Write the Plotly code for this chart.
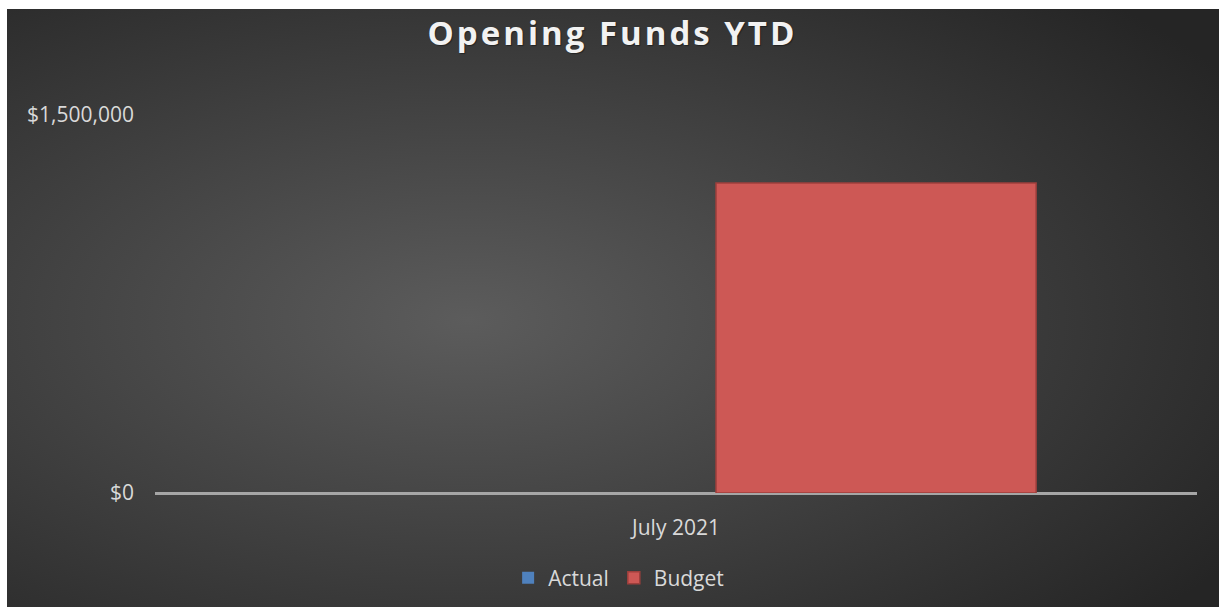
import base64
import plotly.graph_objects as go

# chart data
categories = ["July 2021"]
actual = [0]
budget = [1230000]
y_ticks = [0, 1500000]
y_tick_labels = ["$0", "$1,500,000"]

W, H = 1225, 607

# dark radial background, like the Excel chart style
svg = """<svg xmlns='http://www.w3.org/2000/svg' width='100' height='100' viewBox='0 0 100 100' preserveAspectRatio='none'>
<defs><radialGradient id='g' cx='0.38' cy='0.52' r='0.75'>
<stop offset='0' stop-color='#5c5c5c'/><stop offset='1' stop-color='#252525'/>
</radialGradient></defs><rect width='100' height='100' fill='url(#g)'/></svg>"""
bg_src = "data:image/svg+xml;base64," + base64.b64encode(svg.encode()).decode()

fig = go.Figure()
fig.add_trace(go.Bar(x=categories, y=actual, name="Actual",
                     marker=dict(color="#4f81bd", line=dict(color="#3a6496", width=0))))
fig.add_trace(go.Bar(x=categories, y=budget, name="Budget",
                     marker=dict(color="#cd5855", line=dict(color="#9e3f3c", width=1.5))))

fig.update_layout(
    width=W, height=H,
    margin=dict(l=0, r=0, t=0, b=0, autoexpand=False),
    paper_bgcolor="white",
    plot_bgcolor="rgba(0,0,0,0)",
    barmode="group", bargap=0.232, bargroupgap=0.2,
    font=dict(family="Open Sans, Noto Sans, sans-serif", size=21, color="#d9d9d9"),
    title=dict(text="<span style='letter-spacing:3px'><b>Opening Funds YTD</b></span>",
               x=0.5, xanchor="center", y=1 - 33 / H, yanchor="middle",
               font=dict(family="Open Sans", size=33, color="#f2f2f2",
                         shadow="1px 1px 1px rgba(0,0,0,0.4)")),
    showlegend=True,
    legend=dict(orientation="h", x=0.505, xanchor="center", y=1 - 578 / H, yanchor="middle",
                font=dict(size=21, color="#d9d9d9"), bgcolor="rgba(0,0,0,0)",
                itemwidth=30, traceorder="normal"),
    images=[dict(source=bg_src, xref="paper", yref="paper",
                 x=7 / W, y=1 - 9 / H, sizex=(1219 - 7) / W, sizey=(H - 9) / H,
                 xanchor="left", yanchor="top", sizing="stretch", layer="below")],
)

fig.update_xaxes(domain=[155 / W, 1197 / W], showgrid=False, showline=False,
                 ticks="", ticklabelstandoff=20, tickfont=dict(size=21, color="#d9d9d9"))
fig.update_yaxes(domain=[1 - 493 / H, 1 - 115 / H], range=[0, 1500000],
                 tickvals=y_ticks, ticktext=y_tick_labels,
                 showgrid=True, gridcolor="#5e5e5e", gridwidth=1,
                 zeroline=True, zerolinecolor="#a6a6a6", zerolinewidth=3,
                 showline=False, ticks="", ticklabelstandoff=20,
                 tickfont=dict(size=21, color="#d9d9d9"))

# page without the default body margin, so the figure sits at the window origin
fig.write_html("out.html", config={"displayModeBar": False},
               post_script="document.body.style.margin='0';document.body.style.overflow='hidden';")
